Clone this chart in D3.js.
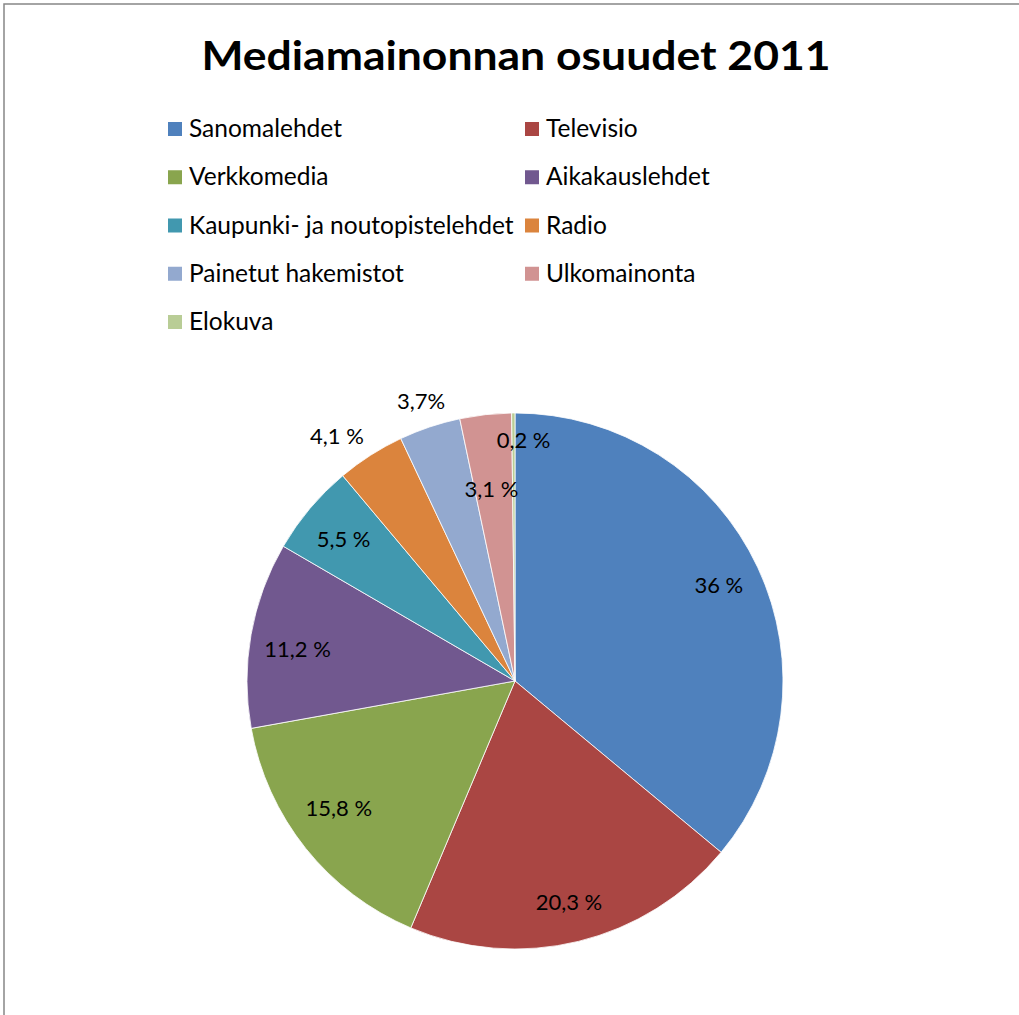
<!DOCTYPE html>
<html>
<head>
<meta charset="utf-8">
<script src="https://cdn.jsdelivr.net/npm/d3@7"></script>
<style>
  html, body { margin: 0; padding: 0; background: #fff; }
  svg { display: block; }
  text { font-family: Lato, "Open Sans", "DejaVu Sans", sans-serif; fill: #000; }
</style>
</head>
<body>
<svg id="chart" width="1019" height="1015"></svg>
<script>
// Media advertising shares 2011 (percent)
const categories = [
  "Sanomalehdet", "Televisio", "Verkkomedia", "Aikakauslehdet",
  "Kaupunki- ja noutopistelehdet", "Radio", "Painetut hakemistot",
  "Ulkomainonta", "Elokuva"
];
const shares = [36, 20.3, 15.8, 11.2, 5.5, 4.1, 3.7, 3.1, 0.2];
const colors = [
  "#4F81BD", "#AA4643", "#89A54E", "#71588F", "#4198AF",
  "#DB843D", "#93A9CF", "#D19392", "#B9CD96"
];
// separator between number and percent sign in each data label
const percentSeparators = [" ", " ", " ", " ", " ", " ", "", " ", " "];

// label placement: radius as fraction of pie radius, and angular nudge (degrees)
const labelRadius = [0.84, 0.85, 0.81, 0.82, 0.83, 1.13, 1.10, 0.72, 0.90];
const labelNudge  = [0, 0, 2.9, -1.7, -0.5, -3.4, 0, -0.7, 2.4];

const W = 1019, H = 1015;
const svg = d3.select("#chart");

svg.append("rect").attr("width", W).attr("height", H).attr("fill", "#fff");

// outer frame (left and top edges)
svg.append("path")
  .attr("d", "M4," + H + "V4H" + W)
  .attr("fill", "none")
  .attr("stroke", "#878787")
  .attr("stroke-width", 1.5);

// title
svg.append("text")
  .attr("x", 516).attr("y", 70)
  .attr("text-anchor", "middle")
  .attr("font-size", 41)
  .attr("font-weight", "bold")
  .attr("textLength", 629)
  .attr("lengthAdjust", "spacingAndGlyphs")
  .text("Mediamainonnan osuudet 2011");

// legend: two columns, row-major order
const legendX = [168, 525], legendTop = 122, rowGap = 48.25, sw = 14;
const legend = svg.append("g").selectAll("g")
  .data(categories)
  .join("g")
  .attr("transform", (d, i) =>
    `translate(${legendX[i % 2]},${legendTop + Math.floor(i / 2) * rowGap})`);
legend.append("rect")
  .attr("width", sw).attr("height", sw)
  .attr("fill", (d, i) => colors[i]);
legend.append("text")
  .attr("x", 21).attr("y", 15)
  .attr("font-size", 24.5)
  .text(d => d);

// pie
const cx = 515, cy = 681, R = 268;
const pie = d3.pie().sort(null).value(d => d)
  .startAngle(0).endAngle(2 * Math.PI);
const arcs = pie(shares);
const arc = d3.arc().innerRadius(0).outerRadius(R);

const g = svg.append("g").attr("transform", `translate(${cx},${cy})`);
g.selectAll("path")
  .data(arcs)
  .join("path")
  .attr("d", arc)
  .attr("fill", (d, i) => colors[i])
  .attr("stroke", "#fff")
  .attr("stroke-width", 0.8);

const fmt = v => String(v).replace(".", ",");
g.selectAll("text.lbl")
  .data(arcs)
  .join("text")
  .attr("class", "lbl")
  .attr("text-anchor", "middle")
  .attr("dy", "0.36em")
  .attr("font-size", 22)
  .attr("transform", (d, i) => {
    const a = (d.startAngle + d.endAngle) / 2 + labelNudge[i] * Math.PI / 180;
    const r = R * labelRadius[i];
    return `translate(${r * Math.sin(a)},${-r * Math.cos(a)})`;
  })
  .text((d, i) => fmt(shares[i]) + percentSeparators[i] + "%");
</script>
</body>
</html>
